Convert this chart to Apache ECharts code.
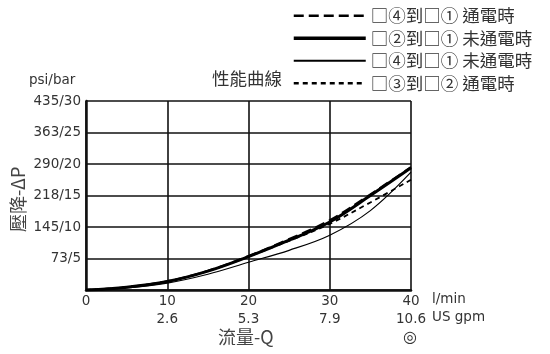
<!DOCTYPE html>
<html><head><meta charset="utf-8">
<script src="https://cdn.jsdelivr.net/npm/echarts@6/dist/echarts.min.js"></script>
<style>html,body{margin:0;padding:0;background:#fff}#c{width:550px;height:354px}</style>
</head><body><div id="c"></div>
<script>
const flowLpm = [0, 5, 10, 15, 20, 25, 30, 35, 40];
const s41on  = [0, 0.45, 1.4, 3.05, 5.4, 8.1, 11.1, 15.2, 19.5];
const s21off = [0, 0.45, 1.35, 3.0, 5.3, 7.9, 10.8, 15.0, 19.4];
const s41off = [0, 0.35, 1.1, 2.5, 4.4, 6.3, 8.7, 12.6, 18.7];
const s32on  = [0, 0.45, 1.35, 3.0, 5.3, 7.8, 10.5, 13.9, 17.5];
const seriesNames = ['□④到□① 通電時', '□②到□① 未通電時', '□④到□① 未通電時', '□③到□② 通電時'];
const yTickLabels = ['', '73/5', '145/10', '218/15', '290/20', '363/25', '435/30'];
const xTickLabels = ['0', '10', '20', '30', '40'];
const gpmTickLabels = ['', '2.6', '5.3', '7.9', '10.6'];

const numFont = 'DejaVu Sans';
const cjkFont = '"Noto Sans CJK TC","Noto Sans CJK SC",sans-serif';
function pts(arr){ return flowLpm.map((x,i)=>[x, arr[i]]); }

const styles = [
  {width: 2, type: [10, 5], lw: 2.5},
  {width: 3, type: 'solid', lw: 3.5},
  {width: 1.2, type: 'solid', lw: 2},
  {width: 1.8, type: [5, 4], lw: 2.5}
];
const datas = [s41on, s21off, s41off, s32on];

const chart = echarts.init(document.getElementById('c'), null, {renderer: 'canvas'});
chart.setOption({
  animation: false,
  backgroundColor: '#fff',
  color: ['#000', '#000', '#000', '#000'],
  grid: {left: 86, right: 139, top: 101, bottom: 64, containLabel: false},
  legend: {
    orient: 'vertical', left: 292, top: 7, padding: 0, itemWidth: 72, itemHeight: 14, itemGap: 5,
    itemStyle: {opacity: 0},
    textStyle: {fontFamily: cjkFont, fontSize: 17.5, lineHeight: 16, color: '#333'},
    data: seriesNames.map((n,i)=>({name: n, itemStyle: {opacity: 0}, lineStyle: {width: styles[i].lw, color: '#000', type: styles[i].type}})),
    selectedMode: false
  },
  xAxis: [{
    type: 'value', min: 0, max: 40, interval: 10,
    axisLine: {show: true, onZero: false, lineStyle: {color: '#111', width: 2.5}},
    axisTick: {show: false},
    splitLine: {show: true, lineStyle: {color: '#111', width: 1.6}},
    axisLabel: {margin: 4, fontFamily: numFont, fontSize: 13.5, color: '#333',
      formatter: v => xTickLabels[Math.round(v/10)]}
  }, {
    type: 'value', min: 0, max: 40, interval: 10, position: 'bottom', offset: 18,
    axisLine: {show: false}, axisTick: {show: false}, splitLine: {show: false},
    axisLabel: {margin: 4, fontFamily: numFont, fontSize: 13.5, color: '#333',
      formatter: v => gpmTickLabels[Math.round(v/10)]}
  }],
  yAxis: {
    type: 'value', min: 0, max: 30, interval: 5,
    axisLine: {show: true, onZero: false, lineStyle: {color: '#111', width: 2.5}},
    axisTick: {show: false},
    splitLine: {show: true, lineStyle: {color: '#111', width: 1.6}},
    axisLabel: {margin: 5, fontFamily: numFont, fontSize: 13.5, color: '#333',
      formatter: v => yTickLabels[Math.round(v/5)]}
  },
  series: seriesNames.map((n,i)=>({
    name: n, type: 'line', data: pts(datas[i]), smooth: 0.35, symbol: 'none', showSymbol: false,
    z: 3 + (i===1?0:1),
    itemStyle: {color: '#000'},
    lineStyle: {color: '#000', width: styles[i].width, type: styles[i].type}
  })),
  graphic: [
    {type: 'text', left: 212, top: 70, style: {text: '性能曲線', font: '17.5px ' + cjkFont, fill: '#333'}},
    {type: 'text', left: 29, top: 73, style: {text: 'psi/bar', font: '13.5px ' + numFont, fill: '#333'}},
    {type: 'text', left: 432, top: 292, style: {text: 'l/min', font: '13.5px ' + numFont, fill: '#333'}},
    {type: 'text', left: 432, top: 310, style: {text: 'US gpm', font: '13.5px ' + numFont, fill: '#333'}},
    {type: 'text', left: 218, top: 328, style: {text: '流量-Q', font: '18px ' + cjkFont, fill: '#444'}},
    {type: 'text', left: 403, top: 330, style: {text: '◎', font: '16px ' + numFont, fill: '#333'}},
    {type: 'text', x: 9, y: 232, rotation: Math.PI/2, style: {text: '壓降-ΔP', font: '18px ' + cjkFont, fill: '#444', textVerticalAlign: 'top'}}
  ]
});
</script></body></html>
